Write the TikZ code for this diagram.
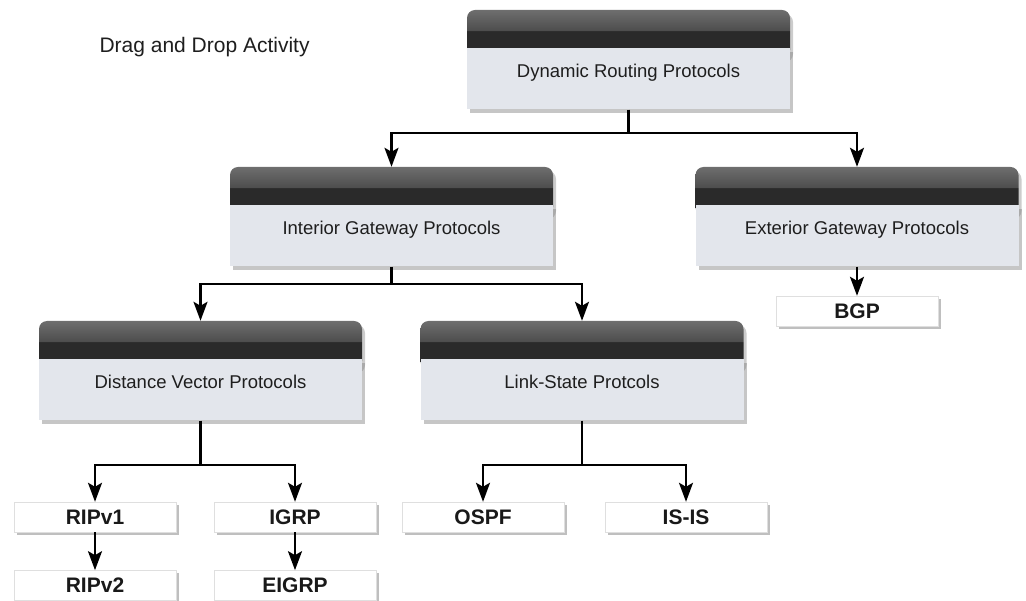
\documentclass[tikz,border=0pt]{standalone}
\usepackage{fontspec}
\setmainfont{Liberation Sans}
\usepackage{xcolor}
\usepackage{tikz}
\usetikzlibrary{positioning,shadows,arrows.meta}

\definecolor{bodygray}{HTML}{E3E6EC}
\definecolor{headdark}{HTML}{2A2A2A}
\definecolor{headmid}{HTML}{4E4E4E}
\definecolor{headtop}{HTML}{6E6E6E}
\definecolor{labelgray}{HTML}{1E1E1E}
\pgfdeclareverticalshading{headshade}{100bp}{color(0bp)=(headdark); color(53bp)=(headdark); color(54bp)=(headmid); color(75bp)=(headtop); color(100bp)=(headtop)}

\begin{document}
\begin{tikzpicture}[
  x=1pt, y=-1pt,
  head/.style={rectangle, rounded corners=8pt, shading=headshade, minimum width=323pt, minimum height=48pt, inner sep=0pt,
    drop shadow={shadow xshift=3pt, shadow yshift=-4pt, opacity=0.4}},
  body/.style={rectangle, fill=bodygray, minimum width=323pt, minimum height=61pt, inner ysep=0pt, text height=14pt, text depth=17pt,
    font=\fontsize{18.5}{22}\selectfont, text=labelgray, below=-10pt of #1,
    drop shadow={shadow xshift=3pt, shadow yshift=-4pt, opacity=0.45}},
  proto/.style={rectangle, draw=gray!25, fill=white, minimum width=162pt, minimum height=30pt, inner sep=0pt,
    font=\fontsize{21}{24}\selectfont\bfseries, text=black!90,
    drop shadow={shadow xshift=3pt, shadow yshift=-3pt, opacity=0.5}},
  link/.style={line width=2.4pt},
  arrow/.style={link, -{Stealth[length=19pt, width=14pt, inset=4pt]}}
]
\useasboundingbox (0,0) rectangle (1026,601);
\node[anchor=west, font=\fontsize{21}{24}\selectfont, text=labelgray] (title) at (96,47) {Drag and Drop Activity};

% category boxes
\node[head] (dynhead) at (628.5,34) {};
\node[body=dynhead] (dynamic) {Dynamic Routing Protocols};
\node[head] (inthead) at (391.5,191) {};
\node[body=inthead] (interior) {Interior Gateway Protocols};
\node[head] (exthead) at (857,191) {};
\node[body=exthead] (exterior) {Exterior Gateway Protocols};
\node[head] (dvhead) at (200.5,345) {};
\node[body=dvhead] (distvec) {Distance Vector Protocols};
\node[head] (lshead) at (582,345) {};
\node[body=lshead] (linkstate) {Link-State Protcols};

% protocols
\node[proto] (bgp) at (857,311) {BGP};
\node[proto] (ripone) at (95,517) {RIPv1};
\node[proto] (igrp) at (295,517) {IGRP};
\node[proto] (ospf) at (483,517) {OSPF};
\node[proto] (isis) at (686,517) {IS-IS};
\node[proto, below=38pt of ripone] (riptwo) {RIPv2};
\node[proto, below=38pt of igrp] (eigrp) {EIGRP};

% connectors
\coordinate (dynjoin) at (dynamic.south |- 0,133);
\coordinate (intjoin) at (interior.south |- 0,284);
\coordinate (dvjoin) at (distvec.south |- 0,465);
\coordinate (lsjoin) at (linkstate.south |- 0,465);
\draw[link] (dynamic.south) -- (dynjoin);
\draw[arrow] (dynjoin) -| (inthead.north);
\draw[arrow] (dynjoin) -| (exthead.north);
\draw[link] (interior.south) -- (intjoin);
\draw[arrow] (intjoin) -| (dvhead.north);
\draw[arrow] (intjoin) -| (lshead.north);
\draw[arrow] (exterior.south) -- (bgp.north);
\draw[link] (distvec.south) -- (dvjoin);
\draw[arrow] (dvjoin) -| (ripone.north);
\draw[arrow] (dvjoin) -| (igrp.north);
\draw[link] (linkstate.south) -- (lsjoin);
\draw[arrow] (lsjoin) -| (ospf.north);
\draw[arrow] (lsjoin) -| (isis.north);
\draw[arrow] (ripone) -- (riptwo);
\draw[arrow] (igrp) -- (eigrp);
\end{tikzpicture}
\end{document}
